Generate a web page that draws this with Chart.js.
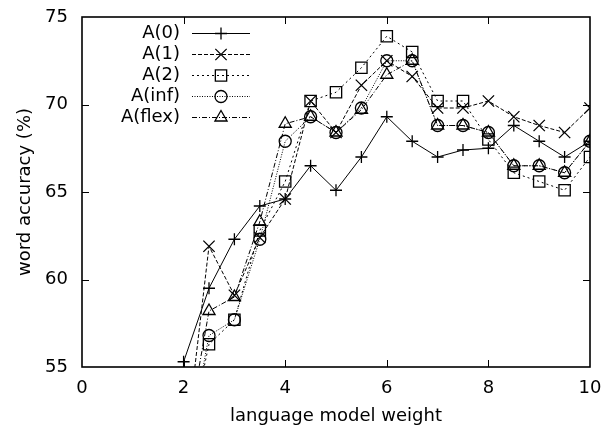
<!DOCTYPE html>
<html>
<head>
<meta charset="utf-8">
<script src="https://cdn.jsdelivr.net/npm/chart.js@4/dist/chart.umd.min.js"></script>
<style>
	body { margin: 0; background: #fff; }
	#wrap { width: 605px; height: 430px; }
</style>
</head>
<body>
<div id="wrap"><canvas id="accChart" width="605" height="430"></canvas></div>
<script>
// language model weight
const weights = [2, 2.5, 3, 3.5, 4, 4.5, 5, 5.5, 6, 6.5, 7, 7.5, 8, 8.5, 9, 9.5, 10];
// word accuracy (%) per setting
const a0    = [55.3, 59.5, 62.3, 64.2, 64.6, 66.5, 65.1, 67.0, 69.3, 67.9, 67.0, 67.4, 67.5, 68.8, 67.9, 67.0, 67.9];
const a1    = [49.5, 61.9, 59.1, 62.4, 64.6, 70.2, 68.4, 71.1, 72.5, 71.6, 69.8, 69.8, 70.2, 69.3, 68.8, 68.4, 69.8];
const a2    = [49.5, 56.3, 57.7, 62.8, 65.6, 70.2, 70.7, 72.1, 73.9, 73.0, 70.2, 70.2, 68.0, 66.1, 65.6, 65.1, 67.0];
const aInf  = [49.0, 56.8, 57.7, 62.3, 67.9, 69.3, 68.4, 69.8, 72.5, 72.5, 68.8, 68.8, 68.4, 66.5, 66.5, 66.1, 67.9];
const aFlex = [50.0, 58.2, 59.0, 63.3, 68.9, 69.3, 68.4, 69.7, 71.7, 72.5, 68.8, 68.8, 68.4, 66.5, 66.5, 66.1, 67.9];
const xTicks = [0, 2, 4, 6, 8, 10];
const yTicks = [55, 60, 65, 70, 75];

const FONT = "'DejaVu Sans', 'Liberation Sans', Arial, sans-serif";

function pts(vals) {
	return weights.map((w, i) => ({ x: w, y: vals[i] }));
}

function series(label, vals, dash, style, radius) {
	return {
		label: label,
		data: pts(vals),
		borderColor: "#000",
		borderWidth: 1,
		borderDash: dash,
		backgroundColor: "rgba(0,0,0,0)",
		pointStyle: style,
		pointRadius: radius,
		pointBorderColor: "#000",
		pointBorderWidth: 1.3,
		pointBackgroundColor: "rgba(0,0,0,0)",
		fill: false,
		tension: 0
	};
}

// box round the plot with inward ticks on all four sides
const frame = {
	id: 'frame',
	afterDatasetsDraw(chart) {
		const ctx = chart.ctx;
		const a = chart.chartArea;
		const x = chart.scales.x, y = chart.scales.y;
		ctx.save();
		ctx.strokeStyle = "#000";
		ctx.lineWidth = 1;
		ctx.beginPath();
		xTicks.slice(1, -1).forEach(v => {
			const px = Math.round(x.getPixelForValue(v)) + 0.5;
			ctx.moveTo(px, a.bottom); ctx.lineTo(px, a.bottom - 7);
			ctx.moveTo(px, a.top); ctx.lineTo(px, a.top + 7);
		});
		yTicks.slice(1, -1).forEach(v => {
			const py = Math.round(y.getPixelForValue(v)) + 0.5;
			ctx.moveTo(a.left, py); ctx.lineTo(a.left + 7, py);
			ctx.moveTo(a.right, py); ctx.lineTo(a.right - 7, py);
		});
		ctx.stroke();
		ctx.lineWidth = 1.6;
		ctx.strokeRect(a.left, a.top, a.right - a.left, a.bottom - a.top);
		ctx.restore();
	}
};

// gnuplot-like key: label on the left, sample line + marker on the right
const key = {
	id: 'key',
	afterDatasetsDraw(chart) {
		const ctx = chart.ctx;
		ctx.save();
		ctx.font = "18px " + FONT;
		ctx.textAlign = "right";
		ctx.textBaseline = "middle";
		chart.data.datasets.forEach((ds, i) => {
			const ty = 33 + i * 21;
			ctx.fillStyle = "#000";
			ctx.fillText(ds.label, 180, ty);
			ctx.strokeStyle = "#000";
			ctx.lineWidth = 1;
			ctx.setLineDash(ds.borderDash);
			ctx.beginPath();
			ctx.moveTo(192, ty + 0.5);
			ctx.lineTo(250, ty + 0.5);
			ctx.stroke();
			ctx.setLineDash([]);
			ctx.fillStyle = "rgba(0,0,0,0)";
			ctx.lineWidth = ds.pointBorderWidth;
			Chart.helpers.drawPoint(ctx, { pointStyle: ds.pointStyle, radius: ds.pointRadius, borderWidth: ds.pointBorderWidth, rotation: 0 }, 221, ty + 0.5);
		});
		ctx.restore();
	}
};

const ACCCHART = document.getElementById("accChart");
let accChart = new Chart(ACCCHART, {
	type: 'line',
	data: {
		datasets: [
			series("A(0)", a0, [], 'cross', 6),
			series("A(1)", a1, [4, 2], 'crossRot', 8),
			series("A(2)", a2, [2, 3], 'rect', 8),
			series("A(inf)", aInf, [1, 1.5], 'circle', 6),
			series("A(flex)", aFlex, [5, 2, 1, 2], 'triangle', 7)
		]
	},
	options: {
		responsive: false,
		animation: false,
		devicePixelRatio: 1,
		layout: { padding: { top: 17, right: 15, left: 0, bottom: 0 } },
		plugins: {
			legend: { display: false },
			tooltip: { enabled: false }
		},
		scales: {
			x: {
				type: 'linear',
				min: 0,
				max: 10,
				afterBuildTicks: s => { s.ticks = xTicks.map(v => ({ value: v })); },
				afterFit: s => { s.height = 63; s.paddingLeft = 0; s.paddingRight = 0; },
				grid: { display: false, drawTicks: false },
				border: { display: false },
				ticks: { color: "#000", padding: 11, font: { family: FONT, size: 18 } },
				title: {
					display: true,
					text: "language model weight",
					color: "#000",
					padding: { top: 0, bottom: 3 },
					font: { family: FONT, size: 18 }
				}
			},
			y: {
				type: 'linear',
				min: 55,
				max: 75,
				afterBuildTicks: s => { s.ticks = yTicks.map(v => ({ value: v })); },
				afterFit: s => { s.width = 82; s.paddingTop = 0; s.paddingBottom = 0; },
				grid: { display: false, drawTicks: false },
				border: { display: false },
				ticks: { color: "#000", padding: 14, font: { family: FONT, size: 18 } },
				title: {
					display: true,
					text: "word accuracy (%)",
					color: "#000",
					padding: { top: 15, bottom: 0 },
					font: { family: FONT, size: 18 }
				}
			}
		}
	},
	plugins: [frame, key]
});
</script>
</body>
</html>
